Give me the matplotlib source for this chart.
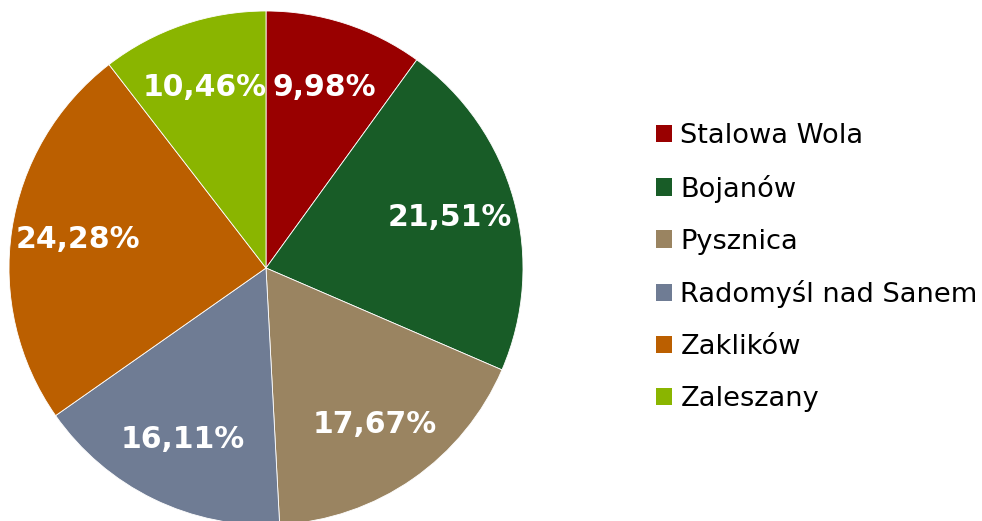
import matplotlib.pyplot as plt
from matplotlib.patches import Patch

# udzialy gmin (%)
gminy = ["Stalowa Wola", "Bojanów", "Pysznica", "Radomyśl nad Sanem", "Zaklików", "Zaleszany"]
udzialy = [9.98, 21.51, 17.67, 16.11, 24.28, 10.46]
kolory = ["#990000", "#185C27", "#9A8461", "#6F7C94", "#BB5F00", "#8AB500"]

fig = plt.figure(figsize=(9.82, 5.21), dpi=100)
# pie: srodek ok. (266, 268) px, promien ok. 257 px
ax = fig.add_axes([9 / 982, -4 / 521, 514 / 982, 514 / 521])

wedges, teksty, procenty = ax.pie(
    udzialy, colors=kolory, startangle=90, counterclock=False,
    autopct=lambda p: f"{p:.2f}%".replace(".", ","), pctdistance=0.74,
    wedgeprops=dict(linewidth=0.6, edgecolor="white"),
    textprops=dict(color="white", fontsize=21.5, fontweight="bold"),
)
ax.set_xlim(-1, 1)
ax.set_ylim(-1, 1)
ax.set_aspect("equal")

uchwyty = [Patch(facecolor=k, edgecolor="none") for k in kolory]
fig.legend(uchwyty, gminy, loc="center left", bbox_to_anchor=(656 / 982, 0.4866),
           frameon=False, fontsize=19.6, borderpad=0, borderaxespad=0,
           labelspacing=0.95, handlelength=0.6, handleheight=0.6, handletextpad=0.3)

fig.savefig("out.png", dpi=100)
